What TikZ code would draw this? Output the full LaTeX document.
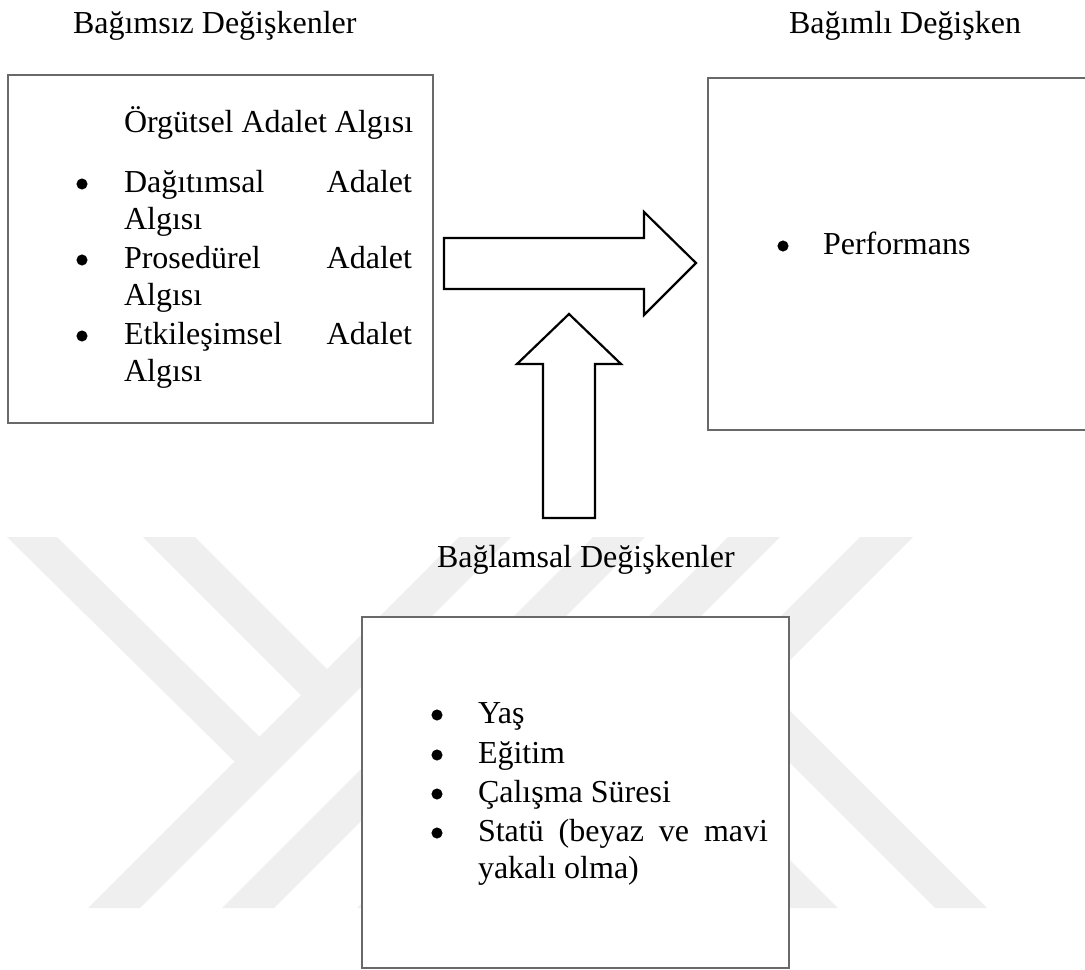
\documentclass[tikz,border=0pt]{standalone}
\usepackage{fontspec}
\setmainfont{Liberation Serif}
\definecolor{wmgray}{RGB}{239,239,239}
\definecolor{boxgray}{RGB}{105,105,105}
\tikzset{
  box/.style={draw=boxgray, line width=0.6pt, fill=white, inner sep=0pt, outer sep=0pt, anchor=north west},
  txt/.style={inner sep=0pt, outer sep=0pt, anchor=base west, font=\fontsize{16}{19}\selectfont},
  bul/.style={circle, fill=black, draw=black, line width=0.3pt, inner sep=0pt, minimum size=5.2pt},
  blockarrow/.style={draw=black, line width=1.1pt, fill=white, line join=miter},
  wm/.style={fill=wmgray, draw=none}
}
\begin{document}
\begin{tikzpicture}[x=0.5pt,y=-0.5pt]
\useasboundingbox (0,0) rectangle (1085,969);
% watermark
\fill[wm] (7,537) -- (57,537) -- (271.5,748.5) -- (246.5,773.5) -- cycle;
\fill[wm] (143,537) -- (195,537) -- (339,681) -- (313,707) -- cycle;
\fill[wm] (459,537) -- (511,537) -- (140,908) -- (88,908) -- cycle;
\fill[wm] (593,537) -- (645,537) -- (274,908) -- (222,908) -- cycle;
\fill[wm] (728,537) -- (780,537) -- (409,908) -- (357,908) -- cycle;
\fill[wm] (860,537) -- (913,537) -- (542,908) -- (489,908) -- cycle;
\fill[wm] (658.5,631.5) -- (684.5,605.5) -- (987,908) -- (935,908) -- cycle;
\fill[wm] (584,706) -- (610,680) -- (838,908) -- (786,908) -- cycle;
% boxes
\node[box, minimum width=212.5pt, minimum height=174pt] (ind) at (8,75) {};
\node[box, minimum width=196pt, minimum height=176pt] (dep) at (708,78) {};
\node[box, minimum width=213.5pt, minimum height=175.5pt] (ctx) at (362,617) {};
% headings
\node[txt] (lblind) at (73,33) {Bağımsız Değişkenler};
\node[txt] (lbldep) at (789,33) {Bağımlı Değişken};
\node[txt] (lblctx) at (437,567) {Bağlamsal Değişkenler};
% left box
\node[txt] (org) at (124,132) {Örgütsel Adalet Algısı};
\node[bul] (b1) at (82,184) {};
\node[txt] (d1) at (124,192) {\makebox[144pt][s]{Dağıtımsal Adalet}};
\node[txt] (d2) at (124,229) {Algısı};
\node[bul] (b2) at (82,260) {};
\node[txt] (p1) at (124,268) {\makebox[144pt][s]{Prosedürel Adalet}};
\node[txt] (p2) at (124,305) {Algısı};
\node[bul] (b3) at (82,336) {};
\node[txt] (e1) at (124,344) {\makebox[144pt][s]{Etkileşimsel Adalet}};
\node[txt] (e2) at (124,381) {Algısı};
% right box
\node[bul] (b4) at (783,246) {};
\node[txt] (perf) at (823,254) {Performans};
% bottom box
\node[bul] (c1) at (437,715) {};
\node[txt] (y1) at (478,723) {Yaş};
\node[bul] (c2) at (437,755) {};
\node[txt] (y2) at (478,763) {Eğitim};
\node[bul] (c3) at (437,794) {};
\node[txt] (y3) at (478,802) {Çalışma Süresi};
\node[bul] (c4) at (437,833) {};
\node[txt] (y4) at (478,841) {\makebox[145pt][s]{Statü (beyaz ve mavi}};
\node[txt] (y5) at (478,878) {yakalı olma)};
% block arrows
\draw[blockarrow] (444,238) -- (644,238) -- (644,212) -- (696,263) -- (644,315) -- (644,289) -- (444,289) -- cycle;
\draw[blockarrow] (569,314) -- (621,364) -- (595,364) -- (595,518) -- (543,518) -- (543,364) -- (517,364) -- cycle;
\end{tikzpicture}
\end{document}
